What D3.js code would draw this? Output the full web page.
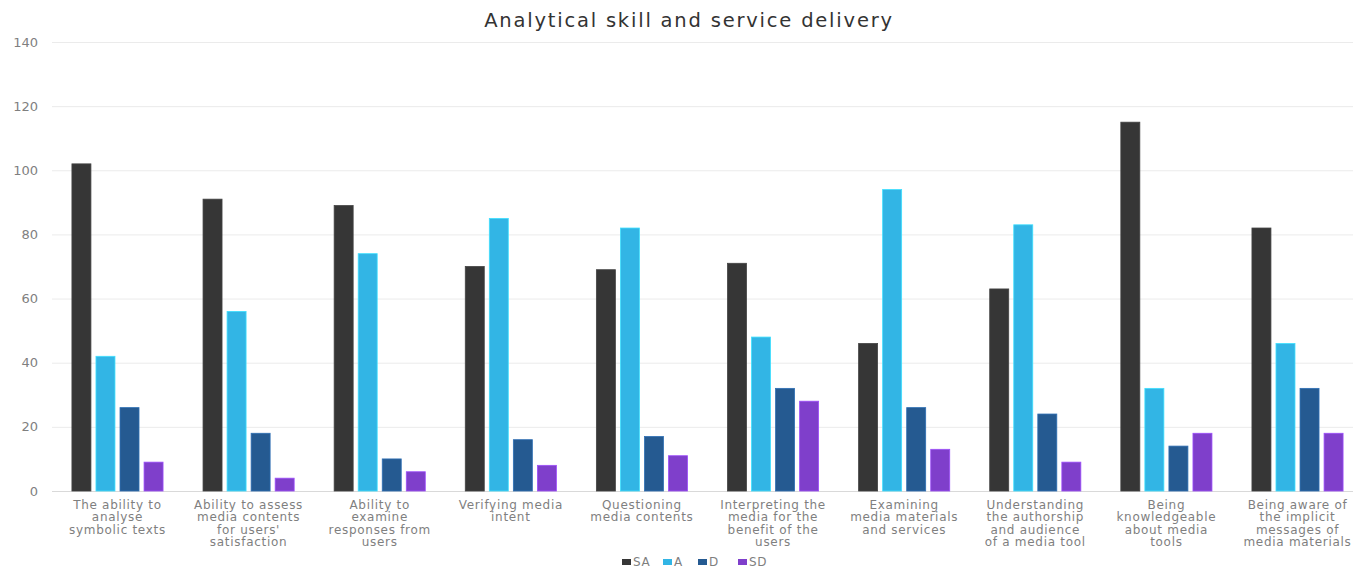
<!DOCTYPE html>
<html>
<head>
<meta charset="utf-8">
<script src="https://cdn.jsdelivr.net/npm/d3@7"></script>
<style>
  body { margin: 0; background: #fff; overflow: hidden; }
  text { font-family: "Century Gothic", "URW Gothic", "DejaVu Sans", sans-serif; }
</style>
</head>
<body>
<div id="chart"></div>
<script>
const categories = [
    ["The ability to", "analyse", "symbolic texts"],
    ["Ability to assess", "media contents", "for users'", "satisfaction"],
    ["Ability to", "examine", "responses from", "users"],
    ["Verifying  media", "intent"],
    ["Questioning", "media contents"],
    ["Interpreting the", "media for the", "benefit of the", "users"],
    ["Examining", "media materials", "and services"],
    ["Understanding", "the authorship", "and audience", "of a media tool"],
    ["Being", "knowledgeable", "about media", "tools"],
    ["Being aware of", "the implicit", "messages of", "media materials"]
];
const seriesNames = ["SA", "A", "D", "SD"];
const saValues = [102, 91, 89, 70, 69, 71, 46, 63, 115, 82];
const aValues  = [42, 56, 74, 85, 82, 48, 94, 83, 32, 46];
const dValues  = [26, 18, 10, 16, 17, 32, 26, 24, 14, 32];
const sdValues = [9, 4, 6, 8, 11, 28, 13, 9, 18, 18];
const yTicks = [0, 20, 40, 60, 80, 100, 120, 140];

const colors = ["#363636", "#32b5e5", "#255a91", "#7f3fcb"];
const allSeries = [saValues, aValues, dValues, sdValues];

const width = 1353, height = 569;
const margin = { left: 52, right: -10, top: 42, bottom: 78 };

const svg = d3.select("#chart").append("svg")
    .attr("width", width)
    .attr("height", height);

const x = d3.scaleBand()
    .domain(d3.range(categories.length))
    .range([margin.left, width - margin.right])
    .paddingInner(0.305)
    .paddingOuter(0.152);

const xInner = d3.scaleBand()
    .domain(seriesNames)
    .range([0, x.bandwidth()])
    .paddingInner(0.21);

const y = d3.scaleLinear()
    .domain([0, 140])
    .range([height - margin.bottom, margin.top]);

// gridlines
svg.append("g")
    .selectAll("line")
    .data(yTicks)
    .join("line")
    .attr("x1", margin.left)
    .attr("x2", width)
    .attr("y1", d => y(d) + 0.5)
    .attr("y2", d => y(d) + 0.5)
    .attr("stroke", d => d === 0 ? "#d9d9d9" : "#ebebeb")
    .attr("stroke-width", 1);

// y tick labels
svg.append("g")
    .selectAll("text")
    .data(yTicks)
    .join("text")
    .attr("x", 38)
    .attr("y", d => y(d))
    .attr("dy", "0.35em")
    .attr("text-anchor", "end")
    .attr("font-size", 13)
    .attr("fill", "#7f7f7f")
    .text(d => d);

// bars
const groups = svg.append("g")
    .selectAll("g")
    .data(categories.map((c, i) => i))
    .join("g")
    .attr("transform", i => `translate(${x(i)},0)`);

groups.selectAll("rect")
    .data(i => seriesNames.map((s, k) => ({ s, k, v: allSeries[k][i] })))
    .join("rect")
    .attr("x", d => xInner(d.s))
    .attr("width", xInner.bandwidth())
    .attr("y", d => y(d.v))
    .attr("height", d => y(0) - y(d.v))
    .attr("fill", d => colors[d.k])
    .attr("stroke", d => d3.color(colors[d.k]).brighter(0.6))
    .attr("stroke-width", 0.8);

// x labels
const labels = svg.append("g")
    .selectAll("text")
    .data(categories)
    .join("text")
    .attr("x", (d, i) => x(i) + x.bandwidth() / 2)
    .attr("y", 509)
    .attr("text-anchor", "middle")
    .attr("font-size", 12)
    .attr("letter-spacing", 0.7)
    .attr("fill", "#7f7f7f");

labels.selectAll("tspan")
    .data(d => d)
    .join("tspan")
    .attr("x", function() { return this.parentNode.getAttribute("x"); })
    .attr("dy", (d, j) => j === 0 ? 0 : 12.3)
    .text(d => d);

// title
svg.append("text")
    .attr("x", 689)
    .attr("y", 27)
    .attr("text-anchor", "middle")
    .attr("font-size", 19.5)
    .attr("letter-spacing", 1.8)
    .attr("fill", "#333")
    .text("Analytical skill and service delivery");

// legend
const legendX = [622, 663, 698, 738];
const legend = svg.append("g")
    .selectAll("g")
    .data(seriesNames)
    .join("g")
    .attr("transform", (d, i) => `translate(${legendX[i]},566)`);

legend.append("rect")
    .attr("x", 0)
    .attr("y", -7)
    .attr("width", 9)
    .attr("height", 6)
    .attr("fill", (d, i) => colors[i]);

legend.append("text")
    .attr("x", 11)
    .attr("y", 0)
    .attr("font-size", 12)
    .attr("letter-spacing", 0.6)
    .attr("fill", "#7f7f7f")
    .text(d => d);
</script>
</body>
</html>
